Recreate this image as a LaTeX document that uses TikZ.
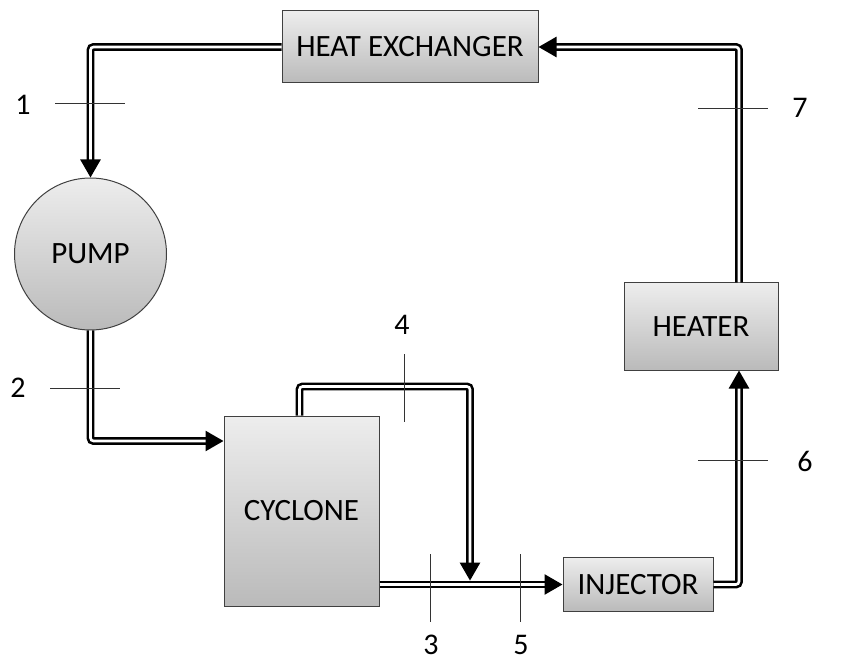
\documentclass[tikz,border=0pt]{standalone}
\usepackage{fontspec}
\setmainfont{Carlito}
\usetikzlibrary{arrows.meta,calc}

\begin{document}
\begin{tikzpicture}[x=1pt, y=-1pt, >={Triangle[length=18pt,width=20pt]},
  unit/.style={draw=black!75, line width=1pt, top color=black!7, bottom color=black!27,
    inner sep=0pt, font=\fontsize{31}{32}\selectfont},
  pipe/.style={line width=2.6pt, double=white, double distance=2.6pt, rounded corners=3pt},
  tick/.style={black!80, line width=0.9pt},
  num/.style={inner sep=0pt, font=\fontsize{30}{31}\selectfont}]
  \useasboundingbox (0,0) rectangle (846,660);

  % Units
  \node[unit, minimum width=256pt, minimum height=72pt] (hx) at (410,47) {HEAT EXCHANGER};
  \node[unit, circle, minimum size=152pt] (pump) at (90.5,254) {PUMP};
  \node[unit, minimum width=155pt, minimum height=190pt] (cyc) at (301.5,511) {CYCLONE};
  \node[unit, minimum width=150pt, minimum height=54pt] (inj) at (638,584.5) {INJECTOR};
  \node[unit, minimum width=154pt, minimum height=87pt] (heat) at (701,326.5) {HEATER};

  % Mixing point on line 5
  \coordinate (mix) at (470,580.6);

  % Pipes
  \draw[pipe, ->] (hx.west) -| (pump.north);
  \draw[pipe, ->] (pump.south) |- ($(cyc.north west)+(0,25.5)$);
  \draw[pipe, ->] ($(cyc.north west)+(76,0)$) -- ++(0,-29) -| (mix);
  \draw[pipe, ->] (cyc.east |- inj.west) -- (inj.west);
  \draw[pipe, ->] (inj.east) -| ($(heat.south)+(38,0)$);
  \draw[pipe, ->] ($(heat.north)+(38,0)$) |- (hx.east);

  % Stream marks
  \draw[tick] (55,103) -- (125,103);
  \node[num] (n1) at (23,105) {1};
  \draw[tick] (50,388) -- (120,388);
  \node[num] (n2) at (18,388) {2};
  \draw[tick] (430,554) -- (430,622);
  \node[num] (n3) at (431,645) {3};
  \draw[tick] (404,354) -- (404,422);
  \node[num] (n4) at (402,325) {4};
  \draw[tick] (520,554) -- (520,622);
  \node[num] (n5) at (521,645) {5};
  \draw[tick] (698,460) -- (768,460);
  \node[num] (n6) at (805,461) {6};
  \draw[tick] (698,108) -- (768,108);
  \node[num] (n7) at (800,108) {7};
\end{tikzpicture}
\end{document}
